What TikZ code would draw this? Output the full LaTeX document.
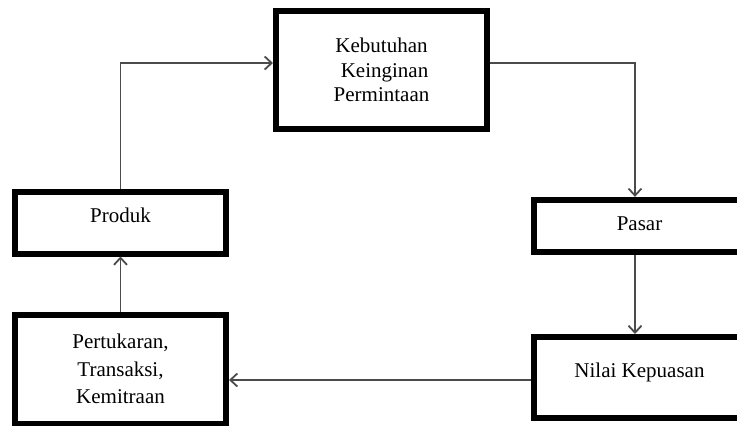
\documentclass[tikz,border=0pt]{standalone}
\usepackage{fontspec}
\setmainfont{Liberation Serif}
\usetikzlibrary{arrows.meta}
\definecolor{conncol}{RGB}{75,75,75}
\begin{document}
\begin{tikzpicture}[x=1pt,y=-1pt,
  box/.style={draw=black, line width=6pt, fill=white, align=center, inner sep=0pt,
    minimum width=211pt, font=\fontsize{21}{24.5}\selectfont},
  conn/.style={draw=conncol, line width=1.8pt, -{Straight Barb[length=7pt,width=13pt]}}]
\useasboundingbox (0,0) rectangle (737,426);
\node[box, minimum height=118pt] (need) at (381.5,70) {Kebutuhan\\\hspace{6pt}Keinginan\\Permintaan};
\node[box, minimum height=61.5pt, text height=16pt, text depth=16pt] (produk) at (120.5,222.75) {Produk};
\node[box, minimum height=109pt, font=\fontsize{21}{27.5}\selectfont] (tukar) at (120.5,369) {Pertukaran,\\Transaksi,\\Kemitraan};
\node[box, minimum height=52.3pt, text height=16pt, text depth=8pt] (pasar) at (639.5,226) {Pasar};
\node[box, minimum height=81pt, text height=16pt, text depth=16pt] (nilai) at (639.5,377.5) {Nilai Kepuasan};
\draw[conn] (produk.north) |- ([yshift=7pt]need.west);
\draw[conn] ([yshift=7pt]need.east) -| ([xshift=-4.5pt]pasar.north);
\draw[conn] ([xshift=-4.5pt]pasar.south) -- ([xshift=-4.5pt]nilai.north);
\draw[conn] (tukar.north) -- (produk.south);
\draw[conn] ([yshift=-2.5pt]nilai.west) -- ([yshift=-11pt]tukar.east);
\end{tikzpicture}
\end{document}
